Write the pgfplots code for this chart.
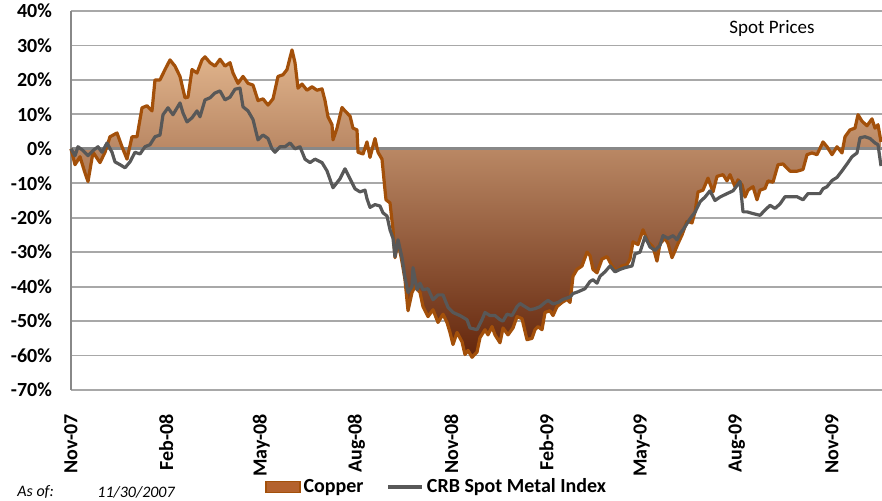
\documentclass[border=0pt]{standalone}
\usepackage{fontspec}
\setmainfont{Carlito}
\usepackage{pgfplots}
\usepackage{pgfplotstable}
\pgfplotsset{compat=1.18}
\definecolor{copperline}{RGB}{163,80,10}
\definecolor{copperTop}{RGB}{226,182,142}
\definecolor{copperMid}{RGB}{204,130,70}
\definecolor{copperBot}{RGB}{100,38,12}
\definecolor{crbgray}{RGB}{88,88,88}
\definecolor{gridgray}{RGB}{168,168,168}
\definecolor{zerogray}{RGB}{136,136,136}
\definecolor{legA}{RGB}{180,98,45}
\definecolor{legB}{RGB}{225,165,115}

% x = horizontal position (Nov-07 = 71, 3 months = 95.1)
\pgfplotstableread{
x y
71 0
75 -4.6
80 -2.3
85 -7
88 -9.5
93 -1
100 -4
105 -1
110 3.5
117 4.6
122 0.6
127 -3
132 3.5
137 3.5
142 11.9
147 12.5
152 11
155 20
160 20
165 23
170 25.8
175 24
180 21
185 14.8
188 15
192 23
197 22
202 25.8
205 26.7
210 25
215 24
220 26
225 24
230 25
233 22
238 19
243 21
248 19
253 18.5
258 14
263 14.5
268 12.7
273 14.5
278 21
283 21.5
287 23
292 28.7
295 25
298 17.6
302 18.8
307 17
312 18
317 17
322 17.4
325 14
328 9.3
332 7
333 2.6
337 6
342 12
345 11
350 9.5
353 6
357 5.5
358 -1
363 -1.5
367 2
370 -2.5
375 3
378 -1
382 -3
385 -12
386 -14.8
390 -15.7
393 -23.5
395 -31.6
398 -27
402 -32.8
405 -38
408 -47
412 -41.7
415 -40
420 -41.7
423 -45.8
428 -48.7
433 -46.7
438 -50.4
443 -48
447 -50.4
450 -53.3
453 -56.8
457 -53.3
462 -56
465 -59.7
468 -58.5
472 -60.5
477 -59
480 -54.8
485 -52.5
488 -54
492 -51.6
495 -54
500 -56.3
503 -52
508 -54
513 -52
517 -48.7
522 -49.3
527 -55.4
532 -55
535 -52.5
538 -51.6
542 -52.5
545 -47.5
550 -47
553 -48.4
557 -45.8
562 -44.6
567 -43.7
570 -44.6
573 -37
577 -35
582 -34
587 -30
590 -31
593 -35
597 -36
602 -32
607 -31.3
612 -34
617 -35.4
622 -34
627 -33.6
630 -32
633 -27
638 -27.8
643 -23.5
648 -27
653 -28.5
657 -32.6
660 -27.5
665 -26
668 -27.5
672 -31.6
675 -29.6
678 -27.5
682 -25
687 -21
692 -21.5
695 -18.3
698 -12.5
703 -12
708 -8.5
713 -12.5
717 -8
723 -7.5
727 -9.3
730 -7.5
735 -11
738 -9
742 -10.5
745 -14
748 -12
753 -11
757 -14.8
760 -12
765 -11.5
768 -9.3
773 -9.7
778 -4.6
783 -4.4
790 -6.5
797 -6.5
803 -6
807 -1.7
812 -1.2
817 -1.7
823 2
827 0.6
832 -1.7
837 0.6
842 -1.2
845 3.5
850 5.5
855 6
858 9.9
862 8
867 6.7
872 8.7
875 6
878 7
881 2
}\copper

\pgfplotstableread{
x y
71 0
75 -2
78 0.6
83 -0.5
88 -2
93 -0.5
98 0.6
102 -1
107 1.7
112 -1
115 -3.8
120 -4.6
125 -5.5
130 -3.8
135 -1
140 -1.5
145 0.6
150 1.2
155 3.5
160 4
163 9.9
168 11.9
173 9.9
180 13.3
183 10.4
187 7.8
192 9
197 11
200 9.3
205 14.2
210 14.8
215 16.2
220 16.8
225 14.2
230 15
235 17.3
240 17.6
243 12.2
248 11
253 8.5
258 2.6
263 4
268 3
272 0
275 -1
280 0.6
285 0.6
290 1.7
295 0
300 0.6
305 -3
310 -4
315 -3
322 -4
327 -6.4
333 -11.3
340 -8.7
345 -5.8
350 -8.7
355 -11.6
360 -12.5
365 -12
367 -14.5
370 -17
375 -16.2
380 -16.6
383 -18.6
387 -19.5
390 -23.5
393 -26
395 -31.3
398 -26.4
402 -31.6
405 -37.4
408 -41.7
412 -40
413 -34.5
417 -40.9
420 -39
423 -40.9
428 -40.6
433 -43.8
438 -42.4
443 -42.4
448 -46
453 -47.5
460 -48.4
467 -49.6
470 -52
477 -52.5
482 -49.6
485 -47.5
490 -48.4
495 -48.4
500 -49.6
503 -50
507 -48
512 -48.4
517 -45.8
520 -44.9
525 -45.8
530 -46.7
535 -46.4
540 -45.8
545 -44.6
548 -44
553 -45
558 -44.6
563 -43.7
570 -43
573 -42
578 -41.5
585 -40.6
590 -38.5
593 -38
597 -39
600 -37
605 -35.7
610 -34
615 -35.7
620 -35
625 -34.5
632 -34
635 -30.5
640 -30
645 -25.5
650 -28.5
655 -29.5
660 -28
663 -25.2
668 -26
673 -25.2
677 -26.4
680 -24.6
683 -23.5
687 -21.7
690 -20.3
695 -18.4
700 -15.4
705 -14
710 -12.2
715 -15
720 -14
727 -13
733 -12.2
740 -9.5
743 -18.3
747 -18.3
753 -18.8
760 -19.3
765 -17.8
770 -16.4
775 -17.3
780 -16
785 -13.9
790 -13.9
797 -13.9
803 -14.8
808 -13
813 -13
820 -13
823 -11.6
827 -11
832 -9.2
837 -8.3
842 -6.4
847 -4.4
852 -2.3
857 -1.2
860 3.2
865 3.5
870 3
875 1.7
878 1.2
881 -5
}\crb

\pgfplotstableread{
x y
71 0
882 0
}\zeroline

\begin{document}
\begin{tikzpicture}
\begin{axis}[
  scale only axis,
  width=405.5pt, height=189.5pt,
  xmin=71, xmax=882,
  ymin=-70, ymax=40,
  ytick={-70,-60,...,40},
  yticklabel={\pgfmathprintnumber{\tick}\%},
  xtick={71,166.1,261.2,356.3,451.4,546.5,641.6,736.7,831.8},
  xticklabels={Nov-07,Feb-08,May-08,Aug-08,Nov-08,Feb-09,May-09,Aug-09,Nov-09},
  /pgf/number format/assume math mode=true,
  ticklabel style={font=\fontsize{10}{12}\selectfont\bfseries},
  xticklabel style={yshift=-8.5pt, rotate=90, anchor=east},
  yticklabel style={xshift=-6pt},
  major tick length=0pt,
  tick style={draw=none},
  ymajorgrids,
  grid style={draw=gridgray, line width=0.9pt},
  separate axis lines,
  axis x line*=bottom, axis y line*=left,
  x axis line style={draw=none},
  y axis line style={draw=zerogray, line width=1pt},
  clip=false,
  legend columns=2,
  legend style={draw=none, fill=none, at={(0,0)}, anchor=west,
    xshift=97pt, yshift=-48.5pt, inner sep=0pt,
    font=\fontsize{10}{12}\selectfont\bfseries,
    /tikz/every even column/.append style={column sep=10pt},
    nodes={inner sep=1.5pt}},
]
\addplot[draw=none, top color=copperTop, middle color=copperMid, bottom color=copperBot,
  legend image code/.code={\draw[draw=copperline, line width=0.6pt, top color=legA, middle color=legB, bottom color=legA] (0pt,-2.6pt) rectangle (17pt,2.6pt);}]
  table[x=x,y=y]{\copper} \closedcycle;
\addlegendentry{Copper}
\addplot[forget plot, draw=zerogray, line width=1.4pt] table[x=x,y=y]{\zeroline};
\addplot[forget plot, draw=copperline, line width=1.6pt, line join=round] table[x=x,y=y]{\copper};
\addplot[draw=crbgray, line width=1.6pt, line join=round] table[x=x,y=y]{\crb};
\addlegendentry{CRB Spot Metal Index}
\node[font=\fontsize{9.5}{11}\selectfont, anchor=center] at (axis cs:772,34.8) {Spot Prices};
\node[font=\fontsize{8}{10}\selectfont\itshape, anchor=west, inner sep=0pt, xshift=-27pt, yshift=-51pt] at (rel axis cs:0,0) {As of:};
\node[font=\fontsize{8}{10}\selectfont\itshape, anchor=west, inner sep=0pt, xshift=13pt, yshift=-51pt] at (rel axis cs:0,0) {11/30/2007};
\coordinate (sw) at (rel axis cs:0,0);
\coordinate (ne) at (rel axis cs:1,1);
\end{axis}
\pgfresetboundingbox
\useasboundingbox ([shift={(-35.5pt,-55.5pt)}]sw) rectangle ([shift={(0pt,5.5pt)}]ne);
\end{tikzpicture}
\end{document}
